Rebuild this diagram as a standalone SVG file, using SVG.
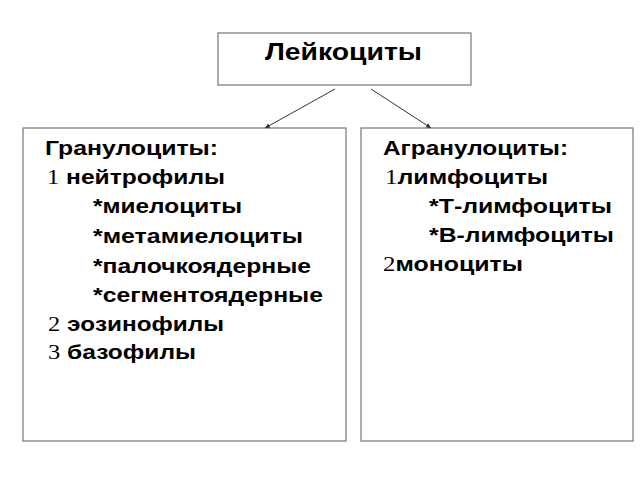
<svg xmlns="http://www.w3.org/2000/svg" width="640" height="480" viewBox="0 0 640 480">
<style>
.box{fill:#fff;stroke:#808080;stroke-width:1.3}
.t{font-family:"Liberation Sans",Arial,sans-serif;font-weight:bold;font-size:20px;fill:#000}
.n{font-family:"Liberation Serif","Times New Roman",serif;font-weight:normal}
.title{font-size:23px}
.c{stroke:#333;stroke-width:1;fill:none;marker-end:url(#ah)}
</style>
<defs>
<marker id="ah" markerWidth="6" markerHeight="6" refX="5" refY="3" orient="auto" markerUnits="userSpaceOnUse">
<path d="M0,0.5 L5,3 L0,5.5 z" fill="#333"/>
</marker>
</defs>
<rect width="640" height="480" fill="#fff"/>
<g id="root">
<rect class="box" x="218" y="33" width="253" height="52"/>
<text class="t title" x="265" y="60" textLength="157" lengthAdjust="spacingAndGlyphs">Лейкоциты</text>
</g>
<g id="granulocytes">
<rect class="box" x="23" y="128" width="323" height="313"/>
<text class="t" x="45" y="155" textLength="173" lengthAdjust="spacingAndGlyphs">Гранулоциты:</text>
<text class="t" x="47" y="184" textLength="178" lengthAdjust="spacingAndGlyphs"><tspan class="n">1</tspan> нейтрофилы</text>
<text class="t" x="93" y="213" textLength="149" lengthAdjust="spacingAndGlyphs">*миелоциты</text>
<text class="t" x="93" y="243" textLength="210" lengthAdjust="spacingAndGlyphs">*метамиелоциты</text>
<text class="t" x="93" y="273" textLength="218" lengthAdjust="spacingAndGlyphs">*палочкоядерные</text>
<text class="t" x="93" y="302" textLength="230" lengthAdjust="spacingAndGlyphs">*сегментоядерные</text>
<text class="t" x="48" y="331" textLength="176" lengthAdjust="spacingAndGlyphs"><tspan class="n">2</tspan> эозинофилы</text>
<text class="t" x="48" y="359" textLength="148" lengthAdjust="spacingAndGlyphs"><tspan class="n">3</tspan> базофилы</text>
</g>
<g id="agranulocytes">
<rect class="box" x="361" y="128" width="272" height="313"/>
<text class="t" x="383" y="155" textLength="185" lengthAdjust="spacingAndGlyphs">Агранулоциты:</text>
<text class="t" x="385" y="184" textLength="163" lengthAdjust="spacingAndGlyphs"><tspan class="n">1</tspan>лимфоциты</text>
<text class="t" x="429" y="213" textLength="183" lengthAdjust="spacingAndGlyphs">*Т-лимфоциты</text>
<text class="t" x="429" y="242" textLength="185" lengthAdjust="spacingAndGlyphs">*В-лимфоциты</text>
<text class="t" x="383" y="271" textLength="140" lengthAdjust="spacingAndGlyphs"><tspan class="n">2</tspan>моноциты</text>
</g>
<g id="connectors">
<line class="c" x1="335" y1="89" x2="265" y2="128"/>
<line class="c" x1="371" y1="89" x2="431" y2="128"/>
</g>
</svg>
